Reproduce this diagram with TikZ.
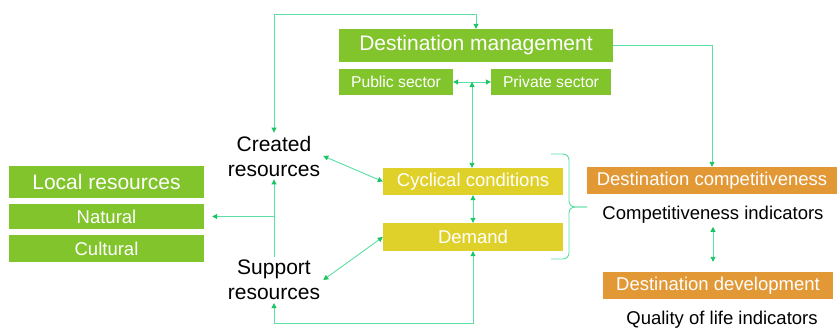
\documentclass[tikz,border=0pt]{standalone}
\usepackage{fontspec}
\setmainfont{Liberation Sans}
\usetikzlibrary{arrows.meta}

\definecolor{leafgreen}{RGB}{130,196,44}
\definecolor{mustard}{RGB}{224,209,42}
\definecolor{amber}{RGB}{227,152,54}
\definecolor{mint}{RGB}{90,224,162}
\definecolor{arrowgreen}{RGB}{24,196,100}

\begin{document}
\begin{tikzpicture}[x=1pt, y=-1pt,
  >={Triangle[length=5pt, width=5pt, color=arrowgreen]},
  large/.style={font=\fontsize{21}{25}\selectfont},
  medium/.style={font=\fontsize{18.5}{22}\selectfont},
  small/.style={font=\fontsize{15.7}{19}\selectfont},
  box/.style={inner sep=0pt, text=white},
  greenbox/.style={box, fill=leafgreen},
  yellowbox/.style={box, fill=mustard},
  orangebox/.style={box, fill=amber},
  link/.style={draw=mint, line width=0.9pt}]
\useasboundingbox (0, 0) rectangle (837, 329);

% management block
\node [greenbox, large, minimum width=274pt, minimum height=33pt] (mgmt) at (476, 45.5) {Destination management};
\node [greenbox, small, minimum width=114pt, minimum height=26pt] (public) at (396, 82) {Public sector};
\node [greenbox, small, minimum width=120pt, minimum height=26pt] (private) at (551, 82) {Private sector};

% resources
\node [greenbox, large, minimum width=195pt, minimum height=32pt] (local) at (106.5, 182) {Local resources};
\node [greenbox, medium, minimum width=195pt, minimum height=25pt] (natural) at (106.5, 216.5) {Natural};
\node [greenbox, medium, minimum width=195pt, minimum height=27pt] (cultural) at (106.5, 248.5) {Cultural};
\node [large, align=center, inner sep=3pt] (created) at (274, 156) {Created\\resources};
\node [large, align=center, inner sep=3pt] (support) at (274, 280) {Support\\resources};

% conditions and demand
\node [yellowbox, medium, minimum width=180pt, minimum height=27pt] (cyclical) at (473, 181.5) {Cyclical conditions};
\node [yellowbox, medium, minimum width=180pt, minimum height=28pt] (demand) at (473, 237) {Demand};

% outcomes
\node [orangebox, medium, minimum width=250pt, minimum height=27pt] (comp) at (712, 180.5) {Destination competitiveness};
\node [medium, inner sep=3pt] (compind) at (713, 215) {Competitiveness indicators};
\node [orangebox, medium, minimum width=230pt, minimum height=27pt] (dev) at (718, 285.5) {Destination development};
\node [medium, anchor=base] (qol) at (722, 324.5) {Quality of life indicators};

\coordinate (toploop) at (274, 14);
\coordinate (botloop) at (473, 323);
\coordinate (ps) at (472, 82);
\coordinate (branch) at (created.south |- natural.east);

\draw [link, <->] (created.north) -- (toploop) -| (mgmt.north);
\draw [link, ->] (mgmt.east) -| (comp.north);
\draw [link, <->] (public) -- (private);
\draw [link, <->] (ps) -- (ps |- cyclical.north);
\draw [link, <->] (cyclical) -- (demand);
\draw [link, <->] (support.south) |- (botloop) -- (demand.south);
\draw [link, <->] (created.east) -- (cyclical.west);
\draw [link, <->] (support.east) -- (demand.west);
\draw [link, ->] (support.north) -- (created.south);
\draw [link, ->, shorten >=8pt] (branch) -- (natural.east);
\draw [link, <->, shorten >=10pt] (compind.south) -- (compind.south |- dev.north);

% brace around conditions and demand
\draw [link, rounded corners=6pt] (551, 154) -| (569, 207) -- (587, 207);
\draw [link, rounded corners=6pt] (551, 259) -| (569, 207) -- (587, 207);
\end{tikzpicture}
\end{document}
